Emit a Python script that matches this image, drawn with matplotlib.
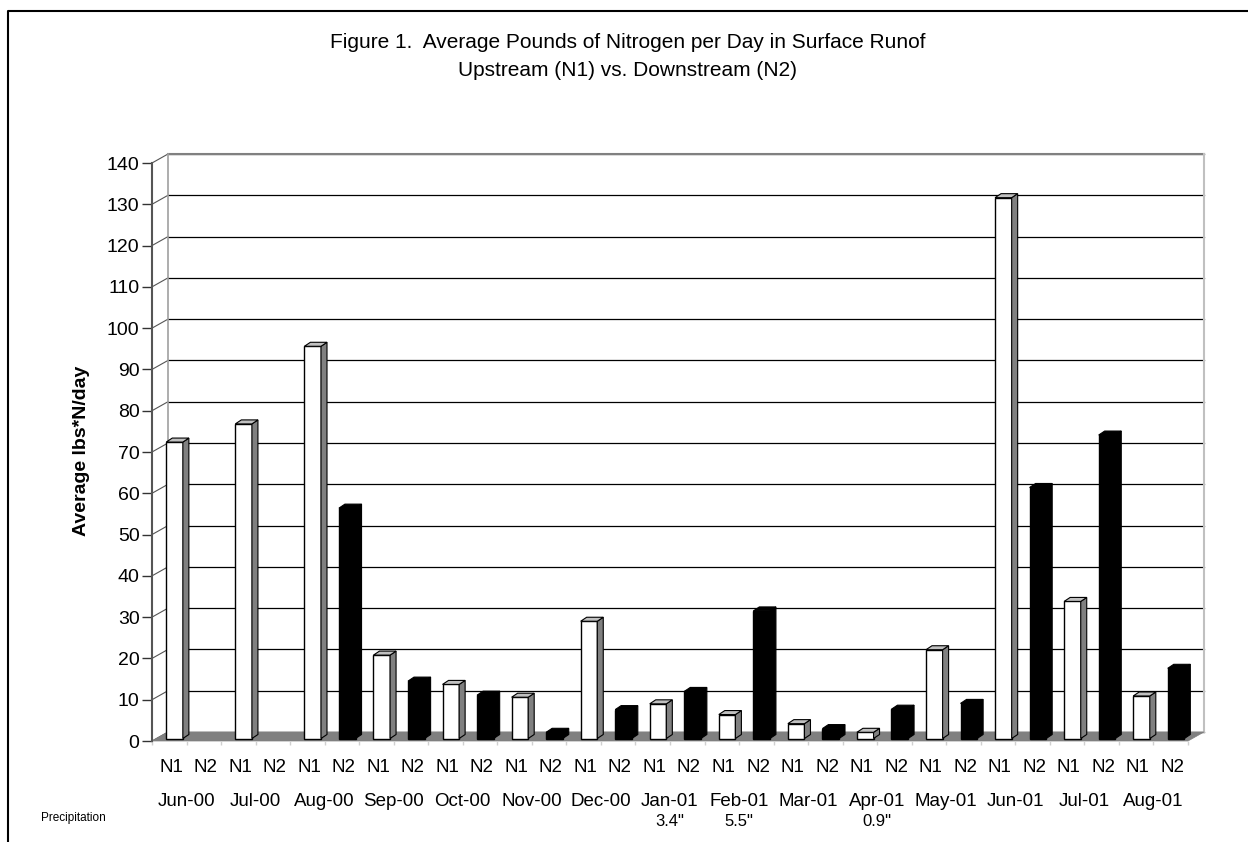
import matplotlib
matplotlib.use('Agg')

import matplotlib.pyplot as plt
import numpy as np
from matplotlib.patches import Polygon
from matplotlib.lines import Line2D

plt.rcParams['font.family'] = ['Liberation Sans', 'DejaVu Sans']

# data
months = ['Jun-00', 'Jul-00', 'Aug-00', 'Sep-00', 'Oct-00', 'Nov-00', 'Dec-00',
          'Jan-01', 'Feb-01', 'Mar-01', 'Apr-01', 'May-01', 'Jun-01', 'Jul-01', 'Aug-01']
series = ['N1', 'N2']
n1 = [71.8, 76.2, 95.0, 20.2, 13.1, 10.0, 28.4, 8.4, 5.8, 3.6, 1.5, 21.5, 131.0, 33.2, 10.3]
n2 = [np.nan, np.nan, 55.8, 13.9, 10.5, 1.5, 7.0, 11.4, 30.9, 2.4, 7.1, 8.5, 60.8, 73.5, 17.0]
precip = {'Jan-01': '3.4"', 'Feb-01': '5.5"', 'Apr-01': '0.9"'}
yticks = np.arange(0, 141, 10)

W, H = 1248, 842
fig = plt.figure(figsize=(W / 100, H / 100), dpi=100)

# front plane of the plot area in pixels
x0, x1, ytop, ybot = 152, 1188, 163, 741
ax = fig.add_axes([x0 / W, 1 - ybot / H, (x1 - x0) / W, (ybot - ytop) / H])
nslots = 2 * len(months)
ax.set_xlim(0, nslots)
ax.set_ylim(0, 140)
for s in ax.spines.values():
    s.set_visible(False)

slot_px = (x1 - x0) / nslots
unit_px = (ybot - ytop) / 140.0
# 3d depth of the walls and of the bars, in data units
DX, DY = 16 / slot_px, 9 / unit_px
BX, BY = 5.3 / slot_px, 2.5 / unit_px
bw = 16.6 / slot_px
bdx, bdy = 6 / slot_px, 4 / unit_px

# back wall grid + side lines
for v in yticks:
    ax.plot([DX, nslots + DX], [v + DY, v + DY], color='black', lw=0.9,
            zorder=1, clip_on=False)
    ax.plot([0, DX], [v, v + DY], color='#555555', lw=0.8, zorder=1, clip_on=False)
ax.plot([DX, nslots + DX], [140 + DY, 140 + DY], color='#808080', lw=1.5,
        zorder=1.2, clip_on=False)
ax.plot([DX, DX], [DY, 140 + DY], color='#a0a0a0', lw=1.2, zorder=1.2, clip_on=False)
ax.plot([nslots + DX, nslots + DX], [DY, 140 + DY], color='#c0c0c0', lw=1.5,
        zorder=1.2, clip_on=False)

# floor
ax.add_patch(Polygon([(0, 0), (nslots, 0), (nslots + DX, DY), (DX, DY)],
                     closed=True, facecolor='#808080', edgecolor='#808080',
                     lw=0.5, zorder=1.5, clip_on=False))

# front value axis
ax.plot([0, 0], [0, 140], color='#555555', lw=1.5, zorder=4, clip_on=False)
ax.set_yticks(yticks)
ax.set_yticklabels([str(v) for v in yticks], fontsize=14)
ax.tick_params(axis='y', length=7, width=1, color='#333333', pad=2)
ax.set_xticks(np.arange(0, nslots + 1))
ax.set_xticklabels([])
ax.tick_params(axis='x', length=3, width=1, color='#d0d0d0', direction='out')

fig.text(82 / W, 1 - 451 / H, 'Average lbs*N/day', rotation=90, ha='center',
         va='center', fontsize=14, fontweight='bold')


def draw_bar(left, val, dark):
    b = ax.bar(left, val, width=bw, bottom=BY, align='edge',
               facecolor='black' if dark else 'white', edgecolor='black',
               lw=1.0, zorder=3)[0]
    xl, yb = b.get_x(), b.get_y()
    xr, yt = xl + b.get_width(), yb + b.get_height()
    side = '#000000' if dark else '#808080'
    top = '#000000' if dark else '#c0c0c0'
    ax.add_patch(Polygon([(xr, yb), (xr + bdx, yb + bdy), (xr + bdx, yt + bdy), (xr, yt)],
                         closed=True, facecolor=side, edgecolor='black', lw=0.8,
                         zorder=3, clip_on=False))
    ax.add_patch(Polygon([(xl, yt), (xr, yt), (xr + bdx, yt + bdy), (xl + bdx, yt + bdy)],
                         closed=True, facecolor=top, edgecolor='black', lw=0.8,
                         zorder=3, clip_on=False))


for i in range(len(months)):
    for k, vals in enumerate([n1, n2]):
        v = vals[i]
        if np.isnan(v):
            continue
        slot = 2 * i + k
        draw_bar(slot + 0.5 - bw / 2 + BX, v, k == 1)

# category labels
for i, m in enumerate(months):
    for k, s in enumerate(series):
        ax.annotate(s, xy=(2 * i + k + 0.55, 0), xycoords=('data', 'axes fraction'),
                    xytext=(0, -27 * 0.72), textcoords='offset points',
                    ha='center', va='center', fontsize=13.5)
    ax.annotate(m, xy=(2 * i + 1, 0), xycoords=('data', 'axes fraction'),
                xytext=(0, -61 * 0.72), textcoords='offset points',
                ha='center', va='center', fontsize=13.5)
    if m in precip:
        ax.annotate(precip[m], xy=(2 * i + 1, 0), xycoords=('data', 'axes fraction'),
                    xytext=(0, -80 * 0.72), textcoords='offset points',
                    ha='center', va='center', fontsize=12)

fig.text(73 / W, 1 - 818 / H, 'Precipitation', ha='center', va='center', fontsize=8.5)

fig.text(628 / W, 1 - 43 / H, 'Figure 1.  Average Pounds of Nitrogen per Day in Surface Runof',
         ha='center', va='center', fontsize=15)
fig.text(628 / W, 1 - 71 / H, 'Upstream (N1) vs. Downstream (N2)',
         ha='center', va='center', fontsize=15)

# outer frame (left and top edges only are in view)
fig.add_artist(Line2D([8 / W, 8 / W, 1], [0, 1 - 11 / H, 1 - 11 / H],
                      transform=fig.transFigure, color='black', lw=1.5))

fig.savefig('out.png', dpi=100)
